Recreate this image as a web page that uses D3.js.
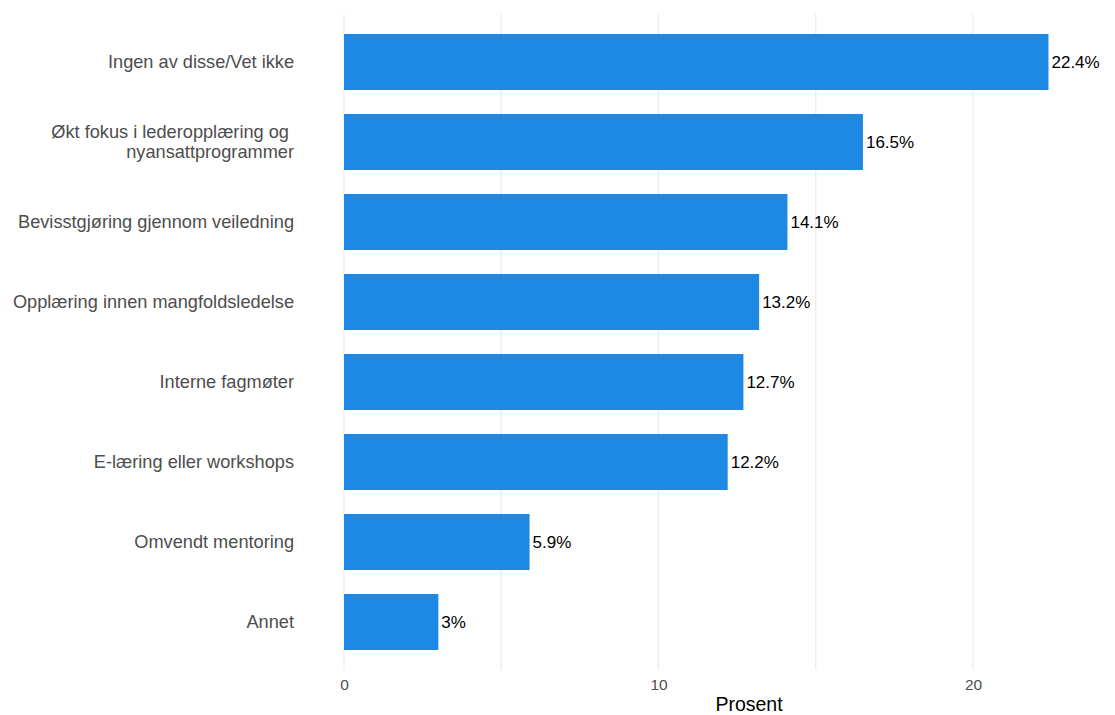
<!DOCTYPE html>
<html><head><meta charset="utf-8">
<script src="https://cdn.jsdelivr.net/npm/d3@7"></script>
<style>body{margin:0;background:#fff}svg{display:block}text{font-family:"Liberation Sans",Arial,Helvetica,sans-serif}</style>
</head><body>
<svg id="c" width="1115" height="715"></svg>
<script>
const categories = [
  ["Ingen av disse/Vet ikke"],
  ["Økt fokus i lederopplæring og ", "nyansattprogrammer"],
  ["Bevisstgjøring gjennom veiledning"],
  ["Opplæring innen mangfoldsledelse"],
  ["Interne fagmøter"],
  ["E-læring eller workshops"],
  ["Omvendt mentoring"],
  ["Annet"]
];
const values = [22.4, 16.5, 14.1, 13.2, 12.7, 12.2, 5.9, 3];
const valueLabels = ["22.4%", "16.5%", "14.1%", "13.2%", "12.7%", "12.2%", "5.9%", "3%"];
const majorTicks = [0, 10, 20];
const minorTicks = [5, 15];
const xTitle = "Prosent";

const svg = d3.select("#c");
const x = d3.scaleLinear().domain([0, 10]).range([344, 658.5]);
const keys = categories.map((c, i) => i);
const y = d3.scaleBand().domain(keys).range([14, 670]).paddingInner(0.3).paddingOuter(0.25);

// gridlines
svg.append("g").selectAll("line").data(majorTicks.concat(minorTicks)).join("line")
  .attr("x1", d => x(d)).attr("x2", d => x(d)).attr("y1", 14).attr("y2", 670)
  .attr("stroke", "#ebebeb").attr("stroke-width", 1.2);

// bars
svg.append("g").selectAll("rect").data(values).join("rect")
  .attr("x", x(0)).attr("y", (d, i) => y(i))
  .attr("width", d => x(d) - x(0)).attr("height", y.bandwidth())
  .attr("fill", "#1E88E5");

// value labels
svg.append("g").selectAll("text").data(values).join("text")
  .attr("x", d => x(d) + 3).attr("y", (d, i) => y(i) + y.bandwidth() / 2)
  .attr("dy", "0.35em").attr("font-size", 17).attr("fill", "#000")
  .text((d, i) => valueLabels[i]);

// category labels
const fs = 18.2;
const cl = svg.append("g").selectAll("text").data(categories).join("text")
  .attr("text-anchor", "end").attr("font-size", fs).attr("fill", "#4d4d4d")
  .attr("y", (d, i) => y(i) + y.bandwidth() / 2);
cl.each(function(d) {
  const t = d3.select(this);
  const lh = 20;
  d.forEach((line, j) => {
    t.append("tspan").attr("x", 294)
      .attr("dy", j === 0 ? (0.35 - (d.length - 1) / 2 * lh / fs) + "em" : lh + "px")
      .attr("xml:space", "preserve").text(line);
  });
});

// x axis tick labels
const xAxis = d3.axisBottom(x).tickValues(majorTicks).tickSize(0).tickFormat(d3.format("d"));
const ax = svg.append("g").attr("transform", "translate(0,676)").call(xAxis);
ax.select(".domain").remove();
ax.selectAll("text").attr("font-size", 15.5).attr("fill", "#4d4d4d")
  .attr("font-family", "'Liberation Sans',Arial,Helvetica,sans-serif");

// x title
svg.append("text").attr("x", 749).attr("y", 711).attr("text-anchor", "middle")
  .attr("font-size", 19.5).attr("fill", "#000").text(xTitle);
</script>
</body></html>
